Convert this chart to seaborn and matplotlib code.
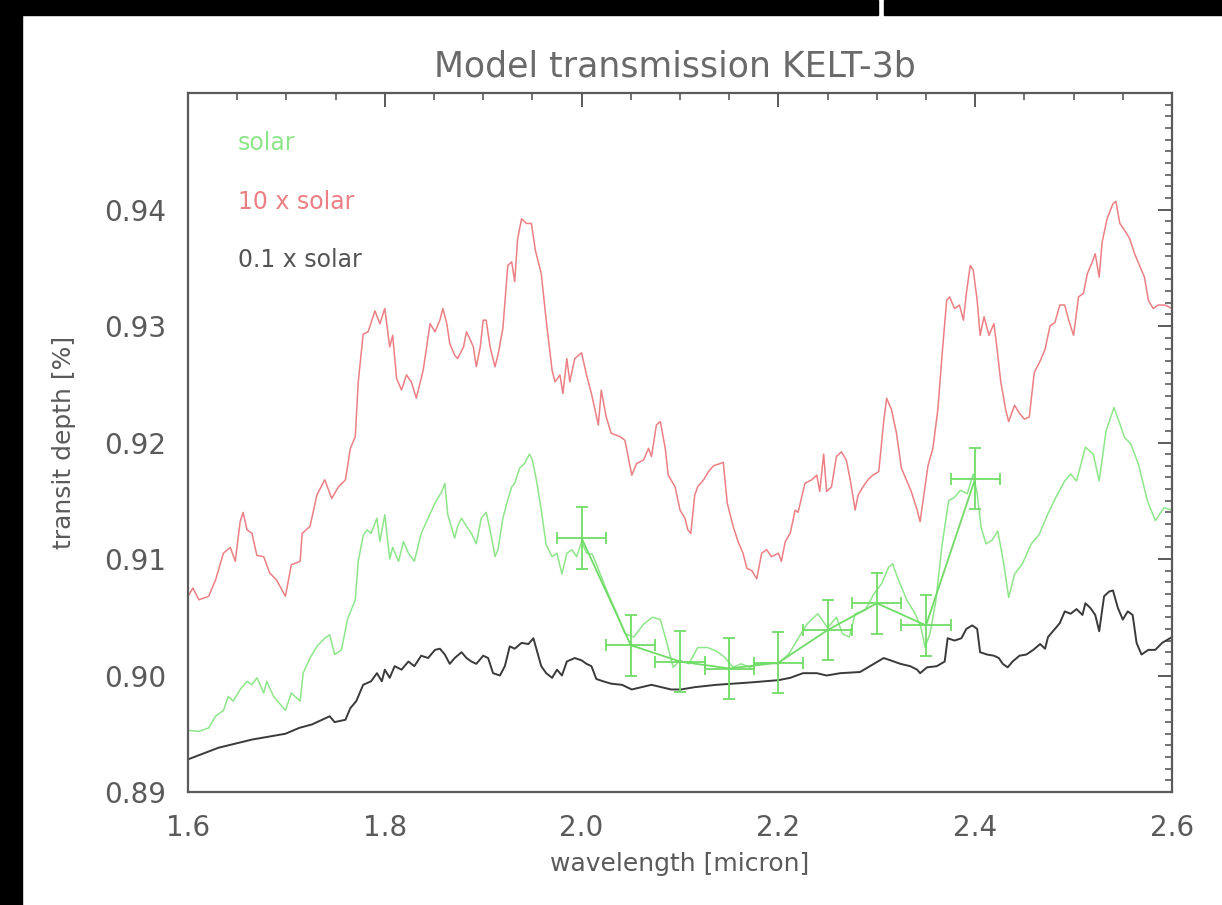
import numpy as np
import pandas as pd
import matplotlib
matplotlib.use("Agg")
import matplotlib.pyplot as plt
from matplotlib.patches import Rectangle
from matplotlib.ticker import MultipleLocator
import seaborn as sns

# ---------------- data ----------------
wl_red = [1.600, 1.605, 1.611, 1.621, 1.628, 1.636, 1.643, 1.648, 1.653, 1.656, 1.660, 1.665, 1.670, 1.677,
          1.683, 1.690, 1.699, 1.705, 1.714, 1.716, 1.724, 1.731, 1.739, 1.746, 1.753, 1.760, 1.765, 1.770,
          1.773, 1.778, 1.783, 1.790, 1.795, 1.800, 1.805, 1.808, 1.812, 1.817, 1.822, 1.827, 1.832, 1.839,
          1.846, 1.851, 1.856, 1.859, 1.863, 1.866, 1.871, 1.874, 1.880, 1.883, 1.887, 1.890, 1.893, 1.897,
          1.900, 1.903, 1.907, 1.912, 1.915, 1.920, 1.925, 1.929, 1.932, 1.935, 1.939, 1.944, 1.949, 1.953,
          1.959, 1.964, 1.970, 1.973, 1.978, 1.981, 1.985, 1.988, 1.993, 2.000, 2.005, 2.010, 2.017, 2.020,
          2.025, 2.030, 2.039, 2.044, 2.051, 2.056, 2.063, 2.068, 2.071, 2.076, 2.080, 2.085, 2.088, 2.095,
          2.100, 2.105, 2.108, 2.111, 2.115, 2.118, 2.124, 2.129, 2.134, 2.141, 2.144, 2.148, 2.154, 2.159,
          2.164, 2.168, 2.173, 2.178, 2.183, 2.188, 2.193, 2.200, 2.203, 2.207, 2.212, 2.217, 2.220, 2.227,
          2.234, 2.239, 2.242, 2.246, 2.249, 2.254, 2.259, 2.264, 2.269, 2.273, 2.278, 2.281, 2.286, 2.291,
          2.296, 2.302, 2.307, 2.310, 2.315, 2.320, 2.325, 2.330, 2.335, 2.341, 2.344, 2.349, 2.352, 2.357,
          2.362, 2.367, 2.371, 2.374, 2.379, 2.384, 2.388, 2.391, 2.395, 2.398, 2.402, 2.405, 2.409, 2.414,
          2.419, 2.422, 2.426, 2.431, 2.434, 2.440, 2.445, 2.450, 2.455, 2.460, 2.466, 2.471, 2.476, 2.481,
          2.486, 2.491, 2.495, 2.500, 2.505, 2.510, 2.514, 2.519, 2.522, 2.526, 2.529, 2.534, 2.540, 2.543,
          2.547, 2.552, 2.557, 2.562, 2.567, 2.572, 2.576, 2.581, 2.586, 2.593, 2.600]
td_red = [0.9068, 0.9075, 0.9065, 0.9068, 0.9082, 0.9105, 0.9110, 0.9098, 0.9132, 0.9140, 0.9125, 0.9122,
          0.9103, 0.9102, 0.9088, 0.9082, 0.9068, 0.9095, 0.9098, 0.9122, 0.9128, 0.9155, 0.9168, 0.9152,
          0.9162, 0.9168, 0.9195, 0.9205, 0.9252, 0.9293, 0.9295, 0.9313, 0.9302, 0.9315, 0.9282, 0.9292,
          0.9255, 0.9245, 0.9258, 0.9252, 0.9238, 0.9262, 0.9302, 0.9295, 0.9305, 0.9315, 0.9302, 0.9285,
          0.9275, 0.9272, 0.9282, 0.9295, 0.9288, 0.9282, 0.9265, 0.9282, 0.9305, 0.9305, 0.9282, 0.9265,
          0.9275, 0.9298, 0.9352, 0.9355, 0.9338, 0.9375, 0.9392, 0.9388, 0.9388, 0.9365, 0.9345, 0.9305,
          0.9262, 0.9252, 0.9258, 0.9242, 0.9272, 0.9252, 0.9272, 0.9277, 0.9258, 0.9242, 0.9215, 0.9245,
          0.9222, 0.9208, 0.9205, 0.9202, 0.9172, 0.9182, 0.9185, 0.9195, 0.9188, 0.9215, 0.9218, 0.9195,
          0.9172, 0.9162, 0.9142, 0.9135, 0.9125, 0.9122, 0.9155, 0.9162, 0.9168, 0.9175, 0.9180, 0.9182,
          0.9183, 0.9148, 0.9128, 0.9115, 0.9105, 0.9092, 0.9090, 0.9083, 0.9105, 0.9108, 0.9102, 0.9105,
          0.9098, 0.9115, 0.9122, 0.9142, 0.9140, 0.9165, 0.9168, 0.9172, 0.9158, 0.9190, 0.9158, 0.9162,
          0.9188, 0.9192, 0.9185, 0.9168, 0.9142, 0.9155, 0.9162, 0.9168, 0.9172, 0.9175, 0.9218, 0.9238,
          0.9228, 0.9208, 0.9178, 0.9168, 0.9158, 0.9142, 0.9132, 0.9162, 0.9180, 0.9195, 0.9228, 0.9282,
          0.9322, 0.9325, 0.9315, 0.9318, 0.9305, 0.9328, 0.9352, 0.9348, 0.9322, 0.9292, 0.9308, 0.9292,
          0.9302, 0.9282, 0.9252, 0.9228, 0.9218, 0.9232, 0.9225, 0.9220, 0.9222, 0.9260, 0.9270, 0.9280,
          0.9300, 0.9303, 0.9318, 0.9318, 0.9305, 0.9292, 0.9325, 0.9328, 0.9345, 0.9355, 0.9362, 0.9342,
          0.9372, 0.9392, 0.9405, 0.9407, 0.9388, 0.9382, 0.9375, 0.9362, 0.9352, 0.9342, 0.9322, 0.9315,
          0.9318, 0.9318, 0.9315]

wl_green = [1.600, 1.611, 1.621, 1.628, 1.636, 1.641, 1.646, 1.653, 1.660, 1.665, 1.670, 1.677, 1.680, 1.687,
            1.694, 1.699, 1.705, 1.714, 1.717, 1.724, 1.731, 1.739, 1.744, 1.749, 1.756, 1.762, 1.770, 1.773,
            1.778, 1.782, 1.786, 1.792, 1.795, 1.800, 1.805, 1.808, 1.814, 1.819, 1.824, 1.830, 1.837, 1.844,
            1.851, 1.858, 1.861, 1.864, 1.871, 1.874, 1.878, 1.883, 1.888, 1.893, 1.898, 1.903, 1.907, 1.912,
            1.915, 1.920, 1.924, 1.929, 1.932, 1.937, 1.942, 1.947, 1.950, 1.954, 1.959, 1.964, 1.970, 1.975,
            1.980, 1.985, 1.990, 1.995, 2.000, 2.005, 2.011, 2.019, 2.027, 2.036, 2.044, 2.053, 2.063, 2.072,
            2.080, 2.086, 2.093, 2.100, 2.109, 2.118, 2.128, 2.137, 2.145, 2.154, 2.162, 2.171, 2.179, 2.187,
            2.200, 2.211, 2.221, 2.229, 2.240, 2.250, 2.259, 2.265, 2.272, 2.278, 2.288, 2.297, 2.305, 2.312,
            2.316, 2.322, 2.331, 2.339, 2.345, 2.349, 2.354, 2.360, 2.366, 2.373, 2.379, 2.385, 2.392, 2.398,
            2.402, 2.406, 2.411, 2.417, 2.423, 2.429, 2.434, 2.440, 2.448, 2.457, 2.465, 2.474, 2.482, 2.491,
            2.497, 2.503, 2.512, 2.520, 2.526, 2.533, 2.541, 2.547, 2.552, 2.558, 2.566, 2.575, 2.583, 2.592,
            2.600]
td_green = [0.8953, 0.8952, 0.8955, 0.8965, 0.8970, 0.8982, 0.8978, 0.8988, 0.8995, 0.8992, 0.8998, 0.8985,
            0.8995, 0.8982, 0.8975, 0.8970, 0.8985, 0.8978, 0.9002, 0.9015, 0.9025, 0.9032, 0.9035, 0.9018,
            0.9022, 0.9048, 0.9065, 0.9098, 0.9120, 0.9125, 0.9122, 0.9135, 0.9115, 0.9138, 0.9100, 0.9110,
            0.9098, 0.9115, 0.9105, 0.9098, 0.9122, 0.9135, 0.9148, 0.9158, 0.9165, 0.9138, 0.9118, 0.9128,
            0.9135, 0.9128, 0.9122, 0.9113, 0.9135, 0.9140, 0.9125, 0.9102, 0.9108, 0.9135, 0.9148, 0.9162,
            0.9165, 0.9178, 0.9182, 0.9190, 0.9185, 0.9168, 0.9142, 0.9112, 0.9102, 0.9105, 0.9087, 0.9105,
            0.9108, 0.9102, 0.9115, 0.9105, 0.9104, 0.9087, 0.9070, 0.9053, 0.9036, 0.9033, 0.9044, 0.9050,
            0.9048, 0.9030, 0.9007, 0.9013, 0.9010, 0.9024, 0.9024, 0.9021, 0.9016, 0.9007, 0.9010, 0.9007,
            0.9010, 0.9011, 0.9010, 0.9019, 0.9033, 0.9044, 0.9053, 0.9041, 0.9050, 0.9036, 0.9033, 0.9053,
            0.9056, 0.9070, 0.9079, 0.9093, 0.9096, 0.9082, 0.9064, 0.9053, 0.9041, 0.9024, 0.9036, 0.9064,
            0.9110, 0.9150, 0.9153, 0.9159, 0.9156, 0.9173, 0.9156, 0.9127, 0.9113, 0.9116, 0.9124, 0.9096,
            0.9067, 0.9087, 0.9096, 0.9113, 0.9121, 0.9139, 0.9153, 0.9167, 0.9173, 0.9167, 0.9196, 0.9190,
            0.9167, 0.9210, 0.9230, 0.9216, 0.9204, 0.9199, 0.9181, 0.9150, 0.9133, 0.9144, 0.9142]

wl_black = [1.600, 1.631, 1.665, 1.699, 1.713, 1.726, 1.744, 1.749, 1.760, 1.765, 1.771, 1.778, 1.786, 1.792,
            1.797, 1.800, 1.805, 1.810, 1.817, 1.824, 1.830, 1.837, 1.844, 1.851, 1.856, 1.861, 1.866, 1.871,
            1.878, 1.883, 1.888, 1.893, 1.900, 1.905, 1.910, 1.917, 1.922, 1.927, 1.932, 1.939, 1.946, 1.951,
            1.954, 1.959, 1.964, 1.970, 1.975, 1.980, 1.985, 1.993, 2.000, 2.005, 2.010, 2.015, 2.022, 2.030,
            2.041, 2.051, 2.061, 2.071, 2.081, 2.091, 2.101, 2.115, 2.137, 2.171, 2.200, 2.212, 2.225, 2.239,
            2.249, 2.263, 2.283, 2.297, 2.307, 2.314, 2.324, 2.334, 2.341, 2.344, 2.351, 2.361, 2.369, 2.372,
            2.379, 2.386, 2.391, 2.397, 2.402, 2.405, 2.412, 2.419, 2.424, 2.428, 2.433, 2.438, 2.445, 2.452,
            2.459, 2.466, 2.471, 2.474, 2.479, 2.486, 2.491, 2.497, 2.503, 2.509, 2.512, 2.517, 2.522, 2.526,
            2.531, 2.536, 2.540, 2.545, 2.550, 2.555, 2.560, 2.564, 2.569, 2.576, 2.583, 2.590, 2.600]
td_black = [0.8928, 0.8938, 0.8945, 0.8950, 0.8955, 0.8958, 0.8965, 0.8960, 0.8962, 0.8972, 0.8978, 0.8992,
            0.8995, 0.9002, 0.8995, 0.9005, 0.8998, 0.9008, 0.9005, 0.9012, 0.9008, 0.9017, 0.9015, 0.9022,
            0.9023, 0.9018, 0.9010, 0.9015, 0.9020, 0.9015, 0.9012, 0.9010, 0.9017, 0.9015, 0.9002, 0.9000,
            0.9008, 0.9025, 0.9023, 0.9028, 0.9027, 0.9032, 0.9023, 0.9008, 0.9002, 0.8998, 0.9005, 0.9000,
            0.9012, 0.9015, 0.9013, 0.9010, 0.9008, 0.8997, 0.8995, 0.8993, 0.8992, 0.8988, 0.8990, 0.8992,
            0.8990, 0.8988, 0.8988, 0.8990, 0.8992, 0.8994, 0.8996, 0.8998, 0.9002, 0.9002, 0.9000, 0.9002,
            0.9003, 0.9010, 0.9015, 0.9013, 0.9010, 0.9008, 0.9005, 0.9002, 0.9007, 0.9008, 0.9012, 0.9032,
            0.9030, 0.9032, 0.9040, 0.9043, 0.9040, 0.9020, 0.9018, 0.9017, 0.9015, 0.9010, 0.9007, 0.9012,
            0.9017, 0.9018, 0.9022, 0.9027, 0.9023, 0.9033, 0.9038, 0.9045, 0.9055, 0.9053, 0.9057, 0.9052,
            0.9062, 0.9058, 0.9052, 0.9038, 0.9068, 0.9072, 0.9073, 0.9058, 0.9048, 0.9055, 0.9052, 0.9028,
            0.9018, 0.9022, 0.9022, 0.9028, 0.9033]

obs_wl = [2.00, 2.05, 2.10, 2.15, 2.20, 2.25, 2.30, 2.35, 2.40]
obs_td = [0.9118, 0.9026, 0.9012, 0.9006, 0.9011, 0.9039, 0.9062, 0.9043, 0.9169]
obs_err = [0.0027, 0.0026, 0.0026, 0.0026, 0.0026, 0.0026, 0.0026, 0.0026, 0.0026]
obs_binhalf = [0.025] * 9

legend_labels = ["solar", "10 x solar", "0.1 x solar"]
title = "Model transmission KELT-3b"
xlabel = "wavelength [micron]"
ylabel = "transit depth [%]"
xticks = [1.6, 1.8, 2.0, 2.2, 2.4, 2.6]
yticks = [0.89, 0.90, 0.91, 0.92, 0.93, 0.94]

# ---------------- style ----------------
sns.set_style("white")
plt.rcParams["font.family"] = ["DejaVu Sans"]

RED = "#ec7f84"
GREEN = "#8ee68a"
GREEN_PT = "#6fdc66"
BLACK = "#3a3a3a"
GRAY = "#5a5a5a"

fig = plt.figure(figsize=(12.22, 9.05), dpi=100)
fig.patch.set_facecolor("white")
# black frame strips from the scanned image
fig.add_artist(Rectangle((0, 1 - 15 / 905), 878 / 1222, 15 / 905, transform=fig.transFigure,
                         color="black", zorder=10))
fig.add_artist(Rectangle((884 / 1222, 1 - 15 / 905), 1 - 884 / 1222, 15 / 905, transform=fig.transFigure,
                         color="black", zorder=10))
fig.add_artist(Rectangle((0, 0), 22 / 1222, 1, transform=fig.transFigure, color="black", zorder=10))

ax = fig.add_axes([188 / 1222, 1 - 792 / 905, (1172 - 188) / 1222, (792 - 93) / 905])

df_red = pd.DataFrame({"wl": wl_red, "td": td_red})
df_green = pd.DataFrame({"wl": wl_green, "td": td_green})
df_black = pd.DataFrame({"wl": wl_black, "td": td_black})
df_obs = pd.DataFrame({"wl": obs_wl, "td": obs_td})

sns.lineplot(data=df_red, x="wl", y="td", color=RED, lw=1.1, ax=ax, sort=False)
sns.lineplot(data=df_green, x="wl", y="td", color=GREEN, lw=1.1, ax=ax, sort=False)
sns.lineplot(data=df_black, x="wl", y="td", color=BLACK, lw=1.4, ax=ax, sort=False)
sns.lineplot(data=df_obs, x="wl", y="td", color=GREEN_PT, lw=1.3, ax=ax, sort=False)
ax.errorbar(obs_wl, obs_td, yerr=obs_err, xerr=obs_binhalf, fmt="none", ecolor=GREEN_PT,
            elinewidth=1.3, capsize=4, capthick=1.3)

ax.set_xlim(1.6, 2.6)
ax.set_ylim(0.89, 0.95)
ax.set_xticks(xticks)
ax.set_xticklabels([f"{v:.1f}" for v in xticks])
ax.set_yticks(yticks)
ax.set_yticklabels([f"{v:.2f}" for v in yticks])
ax.xaxis.set_minor_locator(MultipleLocator(0.05))
ax.yaxis.set_minor_locator(MultipleLocator(0.001))
ax.tick_params(which="both", direction="in", top=True, right=True, colors=GRAY,
               labelcolor=GRAY, labelsize=20)
ax.tick_params(which="major", length=10, width=1.4)
ax.tick_params(which="minor", length=5, width=1.2)
ax.tick_params(axis="y", which="major", pad=16)
ax.tick_params(axis="x", which="major", pad=16)
for s in ax.spines.values():
    s.set_color(GRAY)
    s.set_linewidth(1.6)

ax.set_xlabel(xlabel, fontsize=18, color=GRAY)
ax.set_ylabel(ylabel, fontsize=18, color=GRAY)
ax.xaxis.set_label_coords(0.5, (792 - 852) / 699)
ax.yaxis.set_label_coords((76 - 188) / 984, 0.5)

ax.text(0.495, (792 - 66) / 699, title, transform=ax.transAxes, ha="center", va="center",
        fontsize=25, color="#6a6a6a")

for lab, col, ypx in zip(legend_labels, [GREEN, RED, "#555555"], [143, 202, 260]):
    ax.text((238 - 188) / 984, (792 - ypx) / 699, lab, transform=ax.transAxes, ha="left", va="center",
            fontsize=17, color=col)

fig.savefig("out.png", dpi=100)
